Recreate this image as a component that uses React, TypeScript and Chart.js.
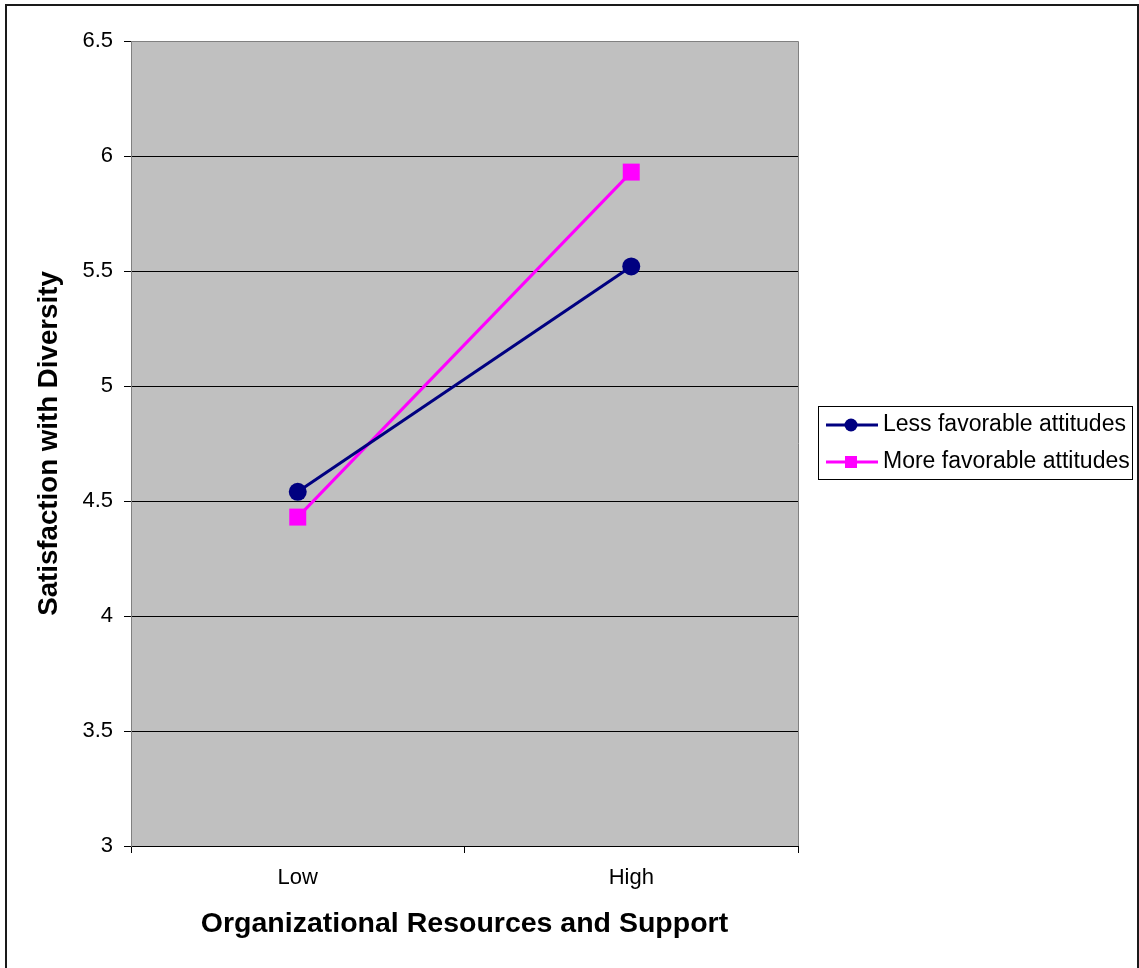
import React, { useEffect, useRef } from "react";
import { Chart, registerables } from "chart.js";

Chart.register(...registerables);

const categories = ["Low", "High"];
const lessFavorable = [4.54, 5.52];
const moreFavorable = [4.43, 5.93];
const seriesNames = ["Less favorable attitudes", "More favorable attitudes"];
const yTitle = "Satisfaction with Diversity";
const xTitle = "Organizational Resources and Support";

const FONT = "'Liberation Sans', Arial, sans-serif";
const NAVY = "#000080";
const MAGENTA = "#FF00FF";
const PLOT_BG = "#C0C0C0";
const PLOT_EDGE = "#808080";

// Outer frame, plot background and the boxed legend on the right.
const framePlugin = {
  id: "frame",
  beforeDraw(chart: any) {
    const { ctx, chartArea } = chart;
    ctx.save();
    ctx.fillStyle = "#ffffff";
    ctx.fillRect(0, 0, chart.width, chart.height);
    ctx.strokeStyle = "#1a1a1a";
    ctx.lineWidth = 2;
    ctx.strokeRect(6, 5, 1132, chart.height + 10);
    ctx.fillStyle = PLOT_BG;
    ctx.fillRect(chartArea.left, chartArea.top, chartArea.right - chartArea.left, chartArea.bottom - chartArea.top);
    ctx.strokeStyle = PLOT_EDGE;
    ctx.lineWidth = 1;
    ctx.beginPath();
    ctx.moveTo(chartArea.left, chartArea.top + 0.5);
    ctx.lineTo(chartArea.right + 0.5, chartArea.top + 0.5);
    ctx.lineTo(chartArea.right + 0.5, chartArea.bottom);
    ctx.stroke();
    ctx.restore();
  },
  afterDraw(chart: any) {
    const { ctx } = chart;
    const box = { x: 818, y: 406, w: 314, h: 73 };
    ctx.save();
    ctx.fillStyle = "#ffffff";
    ctx.fillRect(box.x, box.y, box.w, box.h);
    ctx.strokeStyle = "#000000";
    ctx.lineWidth = 1;
    ctx.strokeRect(box.x + 0.5, box.y + 0.5, box.w, box.h);
    const rows = [425, 462];
    chart.data.datasets.forEach((ds: any, i: number) => {
      const y = rows[i];
      ctx.strokeStyle = ds.borderColor;
      ctx.lineWidth = 3;
      ctx.beginPath();
      ctx.moveTo(826, y);
      ctx.lineTo(878, y);
      ctx.stroke();
      ctx.fillStyle = ds.borderColor;
      if (ds.pointStyle === "rect") {
        ctx.fillRect(851 - 6, y - 6, 12, 12);
      } else {
        ctx.beginPath();
        ctx.arc(851, y, 6.5, 0, Math.PI * 2);
        ctx.fill();
      }
      ctx.fillStyle = "#000000";
      ctx.font = `23px ${FONT}`;
      ctx.textBaseline = "middle";
      ctx.textAlign = "left";
      ctx.fillText(ds.label, 883, y);
    });
    ctx.restore();
  },
};

export default function App() {
  const canvasRef = useRef<HTMLCanvasElement | null>(null);

  useEffect(() => {
    if (!canvasRef.current) return;
    const chart = new Chart(canvasRef.current, {
      type: "line",
      data: {
        labels: categories,
        datasets: [
          {
            label: seriesNames[0],
            data: lessFavorable,
            borderColor: NAVY,
            backgroundColor: NAVY,
            borderWidth: 3,
            pointStyle: "circle",
            pointRadius: 9,
            pointBorderWidth: 0,
            pointBackgroundColor: NAVY,
            tension: 0,
          },
          {
            label: seriesNames[1],
            data: moreFavorable,
            borderColor: MAGENTA,
            backgroundColor: MAGENTA,
            borderWidth: 3,
            pointStyle: "rect",
            pointRadius: 12,
            pointBorderWidth: 0,
            pointBackgroundColor: MAGENTA,
            tension: 0,
          },
        ],
      },
      options: {
        responsive: false,
        animation: false,
        layout: { padding: { left: 0, top: 41, right: 341, bottom: 0 } },
        plugins: {
          legend: { display: false },
          tooltip: { enabled: false },
        },
        scales: {
          x: {
            type: "category",
            offset: true,
            afterFit(scale: any) {
              scale.height = 122;
            },
            grid: {
              offset: true,
              drawOnChartArea: false,
              drawTicks: true,
              tickLength: 7,
              tickColor: "#000000",
              color: "#000000",
            },
            border: { display: true, color: "#000000", width: 1 },
            ticks: {
              color: "#000000",
              font: { family: FONT, size: 22 },
              padding: 12,
              maxRotation: 0,
            },
            title: {
              display: true,
              text: xTitle,
              color: "#000000",
              font: { family: FONT, size: 28.5, weight: "bold" },
              padding: { top: 0, bottom: 27 },
            },
          },
          y: {
            min: 3,
            max: 6.5,
            afterFit(scale: any) {
              scale.width = 131;
            },
            ticks: {
              stepSize: 0.5,
              color: "#000000",
              font: { family: FONT, size: 22 },
              padding: 11,
              callback: (v: any) => String(Number(v)),
            },
            grid: {
              color: (c: any) => (c.tick && c.tick.value === 6.5 ? PLOT_EDGE : "#000000"),
              lineWidth: 1,
              drawTicks: true,
              tickLength: 7,
              tickColor: "#000000",
            },
            border: { display: true, color: PLOT_EDGE, width: 1 },
            title: {
              display: true,
              text: yTitle,
              color: "#000000",
              font: { family: FONT, size: 27.7, weight: "bold" },
              padding: { top: 33, bottom: 0 },
            },
          },
        },
      },
      plugins: [framePlugin],
    });
    return () => chart.destroy();
  }, []);

  return (
    <div style={{ position: "fixed", left: 0, top: 0, width: 1139, height: 968, background: "#fff" }}>
      <canvas ref={canvasRef} width={1139} height={968} />
    </div>
  );
}
